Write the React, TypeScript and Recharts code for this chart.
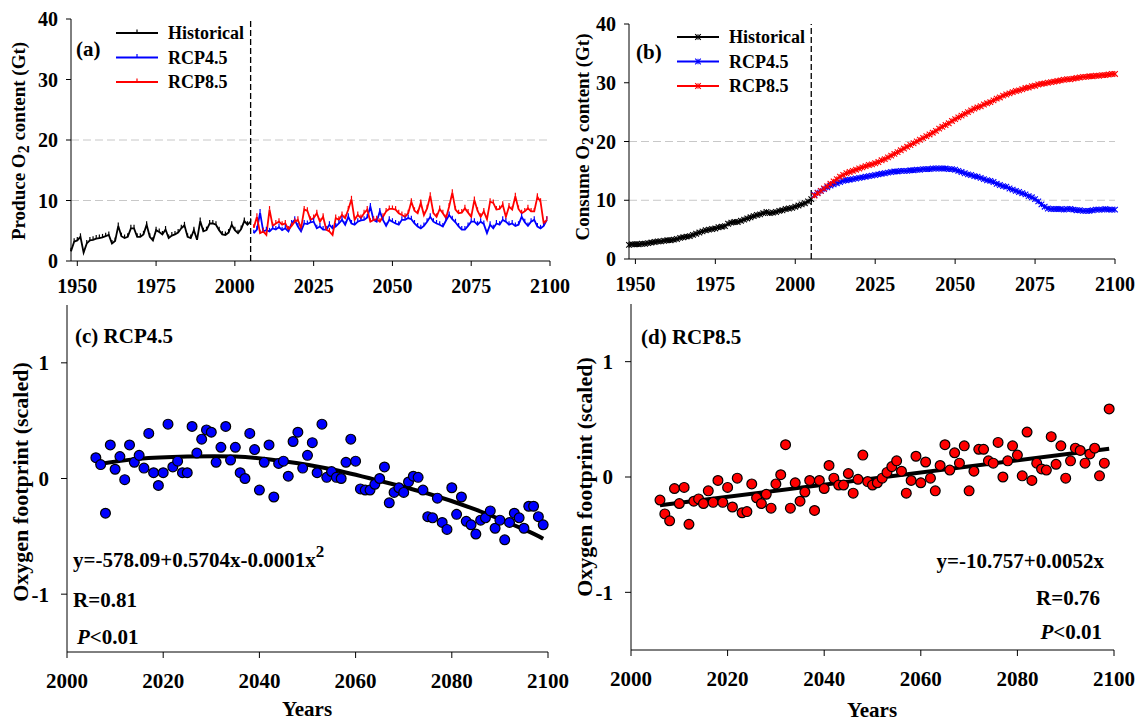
import React from 'react';
import {
  LineChart,
  Line,
  ComposedChart,
  Scatter,
  XAxis,
  YAxis,
  ReferenceLine,
  Legend,
} from 'recharts';

const SERIF = '"Liberation Serif", "Times New Roman", Times, serif';

const HIST_START = 1948;
const RCP_START = 2006;
const SPLIT_YEAR = 2005;

// (a) produced O2 (Gt)
const PRODUCE_HIST = [
  1.6, 3.2, 3.4, 4.0, 1.4, 2.9, 3.4, 3.5, 3.7, 3.8,
  3.9, 4.1, 4.3, 2.9, 3.3, 5.8, 4.1, 3.8, 4.0, 5.4,
  5.4, 4.0, 4.0, 4.4, 6.0, 4.0, 3.4, 5.1, 4.8, 4.4,
  5.2, 3.8, 4.2, 4.4, 4.7, 5.4, 5.9, 4.0, 3.8, 5.1,
  3.5, 6.6, 4.9, 5.1, 6.2, 6.2, 6.0, 5.1, 4.4, 4.3,
  4.7, 6.0, 5.1, 4.6, 5.3, 6.6, 6.0, 6.5,
];
const PRODUCE_RCP45 = [
  4.6, 5.2, 8.0, 4.9, 5.1, 4.9, 5.4, 5.2, 5.6, 5.1,
  5.4, 4.9, 6.2, 6.8, 5.7, 4.9, 6.2, 6.1, 6.4, 6.5,
  5.4, 5.7, 5.2, 5.2, 6.0, 5.4, 5.7, 6.2, 6.8, 6.0,
  7.3, 6.2, 6.0, 6.5, 6.7, 6.8, 7.2, 9.0, 6.8, 6.5,
  8.2, 6.8, 5.8, 6.8, 6.5, 6.2, 6.0, 6.8, 6.8, 7.1,
  6.9, 6.2, 5.7, 5.4, 5.8, 6.5, 7.3, 6.5, 6.2, 6.0,
  5.7, 6.7, 7.6, 6.9, 6.4, 5.7, 5.2, 5.2, 5.8, 6.5,
  6.5, 6.0, 6.5, 6.1, 4.6, 6.0, 5.4, 6.2, 6.0, 6.8,
  6.5, 6.0, 6.2, 5.8, 6.0, 7.3, 6.4, 5.8, 6.5, 6.8,
  5.7, 5.4, 5.8, 6.8,
];
const PRODUCE_RCP85 = [
  5.5, 7.3, 4.6, 4.9, 4.3, 8.5, 5.8, 6.2, 6.5, 6.0,
  6.2, 5.2, 5.8, 6.5, 6.8, 5.4, 8.5, 8.3, 6.8, 7.1,
  7.9, 6.5, 7.3, 5.2, 4.9, 4.3, 7.1, 6.8, 7.6, 7.1,
  8.5, 10.2, 6.8, 7.6, 7.1, 7.9, 8.5, 6.5, 6.8, 6.9,
  6.5, 7.3, 8.2, 8.6, 8.6, 8.5, 7.9, 7.6, 7.3, 7.9,
  9.8, 8.3, 7.9, 9.6, 7.6, 8.7, 10.8, 7.9, 7.3, 8.6,
  7.9, 7.1, 9.0, 11.3, 8.5, 7.9, 8.0, 8.7, 8.0, 7.3,
  10.1, 8.3, 7.3, 8.2, 6.9, 9.8, 9.6, 8.5, 8.6, 9.3,
  7.3, 9.0, 8.5, 10.7, 8.6, 7.9, 8.2, 8.7, 8.2, 8.2,
  10.6, 9.8, 6.2, 6.8,
];

// (b) consumed O2 (Gt)
const CONSUME_HIST = [
  2.4, 2.5, 2.5, 2.5, 2.6, 2.6, 2.7, 2.8, 2.9, 3.0,
  3.0, 3.1, 3.2, 3.2, 3.3, 3.4, 3.6, 3.7, 3.8, 3.9,
  4.1, 4.3, 4.5, 4.7, 4.9, 5.0, 5.1, 5.2, 5.4, 5.5,
  5.6, 6.0, 6.2, 6.3, 6.3, 6.5, 6.7, 6.9, 7.1, 7.3,
  7.5, 7.6, 7.8, 8.0, 7.8, 7.9, 8.0, 8.2, 8.3, 8.5,
  8.6, 8.7, 8.9, 9.1, 9.3, 9.5, 9.8, 10.2,
];
const CONSUME_RCP45 = [
  10.9, 11.3, 11.6, 11.9, 12.2, 12.5, 12.7, 12.9, 13.1, 13.3,
  13.4, 13.5, 13.6, 13.7, 13.8, 13.9, 14.0, 14.1, 14.2, 14.3,
  14.4, 14.5, 14.6, 14.7, 14.8, 14.9, 14.9, 15.0, 15.0, 15.0,
  15.1, 15.1, 15.2, 15.2, 15.3, 15.3, 15.3, 15.4, 15.4, 15.4,
  15.4, 15.4, 15.3, 15.3, 15.2, 15.0, 14.8, 14.6, 14.4, 14.3,
  14.1, 14.0, 13.8, 13.6, 13.4, 13.3, 13.1, 12.8, 12.6, 12.4,
  12.3, 12.0, 11.8, 11.6, 11.4, 11.2, 11.0, 10.7, 10.5, 10.2,
  9.8, 9.3, 8.9, 8.6, 8.5, 8.5, 8.5, 8.5, 8.4, 8.5,
  8.5, 8.4, 8.3, 8.3, 8.2, 8.2, 8.2, 8.3, 8.4, 8.4,
  8.4, 8.5, 8.4, 8.4, 8.4,
];
const CONSUME_RCP85 = [
  10.8, 11.2, 11.6, 12.0, 12.4, 12.8, 13.2, 13.6, 14.0, 14.3,
  14.6, 14.8, 15.0, 15.2, 15.4, 15.6, 15.8, 16.0, 16.1, 16.3,
  16.5, 16.8, 17.0, 17.3, 17.6, 17.9, 18.2, 18.5, 18.8, 19.1,
  19.4, 19.7, 20.0, 20.3, 20.6, 20.9, 21.2, 21.5, 21.8, 22.2,
  22.5, 22.8, 23.1, 23.5, 23.8, 24.1, 24.4, 24.7, 25.0, 25.3,
  25.6, 25.8, 26.0, 26.3, 26.5, 26.7, 27.0, 27.3, 27.5, 27.8,
  28.0, 28.2, 28.4, 28.6, 28.7, 28.9, 29.1, 29.2, 29.4, 29.5,
  29.7, 29.8, 29.9, 30.0, 30.1, 30.2, 30.3, 30.4, 30.5, 30.6,
  30.6, 30.7, 30.8, 30.9, 31.0, 31.0, 31.1, 31.1, 31.2, 31.2,
  31.3, 31.3, 31.4, 31.5, 31.5,
];

// (c)/(d) oxygen footprint, scaled, 2006-2099
const FOOT_RCP45 = [
  0.18, 0.12, -0.3, 0.29, 0.08, 0.19, -0.01, 0.29, 0.14, 0.2,
  0.09, 0.39, 0.05, -0.06, 0.05, 0.47, 0.1, 0.15, 0.05, 0.05,
  0.45, 0.22, 0.34, 0.42, 0.4, 0.14, 0.27, 0.45, 0.16, 0.27,
  0.05, 0.0, 0.39, 0.25, -0.1, 0.14, 0.29, -0.16, 0.13, 0.15,
  0.02, 0.32, 0.4, 0.09, 0.2, 0.31, 0.05, 0.47, 0.01, 0.06,
  0.01, 0.0, 0.14, 0.34, 0.15, -0.09, -0.1, -0.1, -0.05, 0.0,
  0.1, -0.21, -0.12, -0.08, -0.12, -0.03, 0.02, 0.01, -0.1, -0.33,
  -0.34, -0.17, -0.38, -0.44, -0.08, -0.31, -0.16, -0.37, -0.4, -0.48,
  -0.36, -0.34, -0.28, -0.43, -0.36, -0.53, -0.38, -0.3, -0.34, -0.43,
  -0.24, -0.24, -0.33, -0.4,
];
const FOOT_RCP85 = [
  -0.2, -0.32, -0.38, -0.1, -0.23, -0.09, -0.41, -0.21, -0.19, -0.23,
  -0.12, -0.22, -0.03, -0.22, -0.09, -0.26, -0.01, -0.31, -0.3, -0.06,
  -0.18, -0.23, -0.15, -0.27, -0.06, 0.02, 0.28, -0.27, -0.05, -0.21,
  -0.13, -0.03, -0.29, -0.03, -0.1, 0.1, -0.01, -0.07, -0.07, 0.03,
  -0.14, -0.02, 0.19, -0.04, -0.07, -0.05, -0.01, 0.04, 0.09, 0.14,
  0.05, -0.14, -0.03, 0.18, -0.05, 0.13, -0.01, -0.12, 0.1, 0.28,
  0.06, 0.21, 0.12, 0.27, -0.12, 0.05, 0.24, 0.24, 0.14, 0.12,
  0.3, 0.0, 0.14, 0.27, 0.19, 0.01, 0.39, -0.03, 0.12, 0.07,
  0.06, 0.35, 0.11, 0.27, -0.01, 0.14, 0.25, 0.23, 0.12, 0.2,
  0.25, 0.01, 0.12, 0.59,
];

// fitted curves
const FIT45_YEARS = [2006, 2015, 2025, 2035, 2045, 2055, 2065, 2075, 2085, 2095, 2099];
const FIT45 = [0.12, 0.17, 0.19, 0.19, 0.15, 0.08, -0.02, -0.13, -0.27, -0.44, -0.52];
const FIT85_YEARS = [2006, 2099];
const FIT85 = [-0.245, 0.245];

const O2_YEAR_TICKS = [1950, 1975, 2000, 2025, 2050, 2075, 2100];
const O2_TICKS = [0, 10, 20, 30, 40];
const O2_GRID = [10, 20];
const FOOT_YEAR_TICKS = [2000, 2020, 2040, 2060, 2080, 2100];
const FOOT_TICKS = [-1, 0, 1];

function buildO2Rows(hist: number[], rcp45: number[], rcp85: number[]) {
  const end = RCP_START + Math.max(rcp45.length, rcp85.length) - 1;
  const rows = [];
  for (let year = HIST_START; year <= end; year++) {
    const j = year - RCP_START;
    rows.push({
      year,
      hist: hist[year - HIST_START],
      rcp45: j >= 0 ? rcp45[j] : undefined,
      rcp85: j >= 0 ? rcp85[j] : undefined,
    });
  }
  return rows;
}

function buildFootRows(scores: number[], fitYears: number[], fit: number[]) {
  return scores.map((score, i) => {
    const year = RCP_START + i;
    const k = fitYears.indexOf(year);
    return { year, score, fit: k >= 0 ? fit[k] : undefined };
  });
}

const produceRows = buildO2Rows(PRODUCE_HIST, PRODUCE_RCP45, PRODUCE_RCP85);
const consumeRows = buildO2Rows(CONSUME_HIST, CONSUME_RCP45, CONSUME_RCP85);
const foot45Rows = buildFootRows(FOOT_RCP45, FIT45_YEARS, FIT45);
const foot85Rows = buildFootRows(FOOT_RCP85, FIT85_YEARS, FIT85);

const AXIS = { stroke: '#000', strokeWidth: 1 };

// tick text drawn here so it gets the serif face
const xTick = (size: number) => (p: any) => (
  <text
    x={p.x}
    y={p.y}
    dy="0.71em"
    textAnchor="middle"
    fontFamily={SERIF}
    fontWeight="bold"
    fontSize={size}
    fill="#000"
  >
    {p.payload.value}
  </text>
);
const yTick = (size: number) => (p: any) => (
  <text
    x={p.x}
    y={p.y}
    dy="0.35em"
    textAnchor="end"
    fontFamily={SERIF}
    fontWeight="bold"
    fontSize={size}
    fill="#000"
  >
    {p.payload.value}
  </text>
);

const valid = (p: any) => p && typeof p.cy === 'number' && !Number.isNaN(p.cy);

const tickMark = (x: number, y: number, color: string) => (
  <line x1={x} x2={x} y1={y - 3.5} y2={y} stroke={color} strokeWidth={1.2} />
);

const starMark = (x: number, y: number, color: string) => {
  const s = 2.8;
  return (
    <g stroke={color} strokeWidth={1.1}>
      <line x1={x - s} y1={y - s} x2={x + s} y2={y + s} />
      <line x1={x - s} y1={y + s} x2={x + s} y2={y - s} />
      <line x1={x} y1={y - s} x2={x} y2={y + s} />
    </g>
  );
};

const makeDot = (mark: typeof tickMark) => (p: any) =>
  valid(p) ? <g key={`d${p.index}`}>{mark(p.cx, p.cy, p.stroke)}</g> : <g key={`d${p.index}`} />;

function SeriesLegend({ payload, mark }: { payload?: any[]; mark: typeof tickMark }) {
  return (
    <svg width={150} height={76} style={{ overflow: 'visible' }}>
      {(payload || []).map((item, i) => {
        const y = 12 + i * 24.5;
        return (
          <g key={item.value}>
            <line x1={0} x2={42} y1={y} y2={y} stroke={item.color} strokeWidth={2.2} />
            {mark(21, y, item.color)}
            <text
              x={52}
              y={y}
              dy="0.35em"
              fontFamily={SERIF}
              fontWeight="bold"
              fontSize={18}
              fill="#000"
            >
              {item.value}
            </text>
          </g>
        );
      })}
    </svg>
  );
}

function O2Panel({
  rows,
  mark,
  lineWidth,
  margin,
  legendPos,
}: {
  rows: any[];
  mark: typeof tickMark;
  lineWidth: number;
  margin: { top: number; right: number; bottom: number; left: number };
  legendPos: { left: number; top: number };
}) {
  const dot = makeDot(mark);
  return (
    <LineChart width={600} height={300} data={rows} margin={margin}>
      <XAxis
        dataKey="year"
        type="number"
        domain={[1948, 2100]}
        ticks={O2_YEAR_TICKS}
        interval={0}
        height={30}
        tickSize={5}
        tickMargin={13}
        tick={xTick(20)}
        axisLine={AXIS}
        tickLine={AXIS}
      />
      <XAxis
        xAxisId="top"
        orientation="top"
        dataKey="year"
        type="number"
        domain={[1948, 2100]}
        height={0}
        tick={false}
        tickLine={false}
        axisLine={AXIS}
      />
      <YAxis
        type="number"
        domain={[0, 40]}
        ticks={O2_TICKS}
        interval={0}
        width={40}
        tickSize={5}
        tickMargin={8}
        tick={yTick(20)}
        axisLine={AXIS}
        tickLine={AXIS}
      />
      <YAxis
        yAxisId="right"
        orientation="right"
        type="number"
        domain={[0, 40]}
        width={0}
        tick={false}
        tickLine={false}
        axisLine={AXIS}
      />
      {O2_GRID.map((v) => (
        <ReferenceLine key={v} y={v} stroke="#c8c8c8" strokeDasharray="8 4" />
      ))}
      <ReferenceLine x={SPLIT_YEAR} stroke="#000" strokeWidth={1.3} strokeDasharray="6 3" />
      <Line
        dataKey="hist"
        name="Historical"
        stroke="#000"
        strokeWidth={lineWidth}
        dot={dot}
        activeDot={false}
        isAnimationActive={false}
      />
      <Line
        dataKey="rcp45"
        name="RCP4.5"
        stroke="#0000ff"
        strokeWidth={lineWidth}
        dot={dot}
        activeDot={false}
        isAnimationActive={false}
      />
      <Line
        dataKey="rcp85"
        name="RCP8.5"
        stroke="#ff0000"
        strokeWidth={lineWidth}
        dot={dot}
        activeDot={false}
        isAnimationActive={false}
      />
      <Legend
        layout="vertical"
        align="center"
        verticalAlign="middle"
        wrapperStyle={{ left: legendPos.left, top: legendPos.top, width: 150, height: 76 }}
        content={(props: any) => <SeriesLegend payload={props.payload} mark={mark} />}
      />
    </LineChart>
  );
}

function FootPanel({
  rows,
  fill,
  fitType,
  margin,
}: {
  rows: any[];
  fill: string;
  fitType: 'natural' | 'linear';
  margin: { top: number; right: number; bottom: number; left: number };
}) {
  return (
    <ComposedChart width={600} height={433} data={rows} margin={margin}>
      <XAxis
        dataKey="year"
        type="number"
        domain={[2000, 2100]}
        ticks={FOOT_YEAR_TICKS}
        interval={0}
        height={40}
        tickSize={6}
        tickMargin={15}
        tick={xTick(21)}
        axisLine={AXIS}
        tickLine={AXIS}
      />
      <XAxis
        xAxisId="top"
        orientation="top"
        dataKey="year"
        type="number"
        domain={[2000, 2100]}
        height={0}
        tick={false}
        tickLine={false}
        axisLine={AXIS}
      />
      <YAxis
        type="number"
        domain={[-1.5, 1.5]}
        ticks={FOOT_TICKS}
        interval={0}
        width={40}
        tickSize={6}
        tickMargin={12}
        tick={yTick(21)}
        axisLine={AXIS}
        tickLine={AXIS}
      />
      <YAxis
        yAxisId="right"
        orientation="right"
        type="number"
        domain={[-1.5, 1.5]}
        width={0}
        tick={false}
        tickLine={false}
        axisLine={AXIS}
      />
      <Scatter
        dataKey="score"
        isAnimationActive={false}
        shape={(p: any) => (
          <circle cx={p.cx} cy={p.cy} r={4.9} fill={fill} stroke="#000" strokeWidth={1.2} />
        )}
      />
      <Line
        dataKey="fit"
        type={fitType}
        connectNulls
        stroke="#000"
        strokeWidth={4}
        dot={false}
        activeDot={false}
        isAnimationActive={false}
      />
    </ComposedChart>
  );
}

const T = { fontFamily: SERIF, fontWeight: 'bold' as const, fill: '#000' };

function Labels() {
  return (
    <svg
      width={1138}
      height={723}
      style={{ position: 'absolute', left: 0, top: 0, pointerEvents: 'none' }}
    >
      {/* y-axis titles */}
      <text {...T} fontSize={19} textAnchor="middle" transform="translate(25,141) rotate(-90)">
        <tspan>Produce O</tspan>
        <tspan fontSize={16} dy={4}>2</tspan>
        <tspan dy={-4}> content (Gt)</tspan>
      </text>
      <text {...T} fontSize={19} textAnchor="middle" transform="translate(589,137) rotate(-90)">
        <tspan>Consume O</tspan>
        <tspan fontSize={16} dy={4}>2</tspan>
        <tspan dy={-4}> content (Gt)</tspan>
      </text>
      <text {...T} fontSize={22} textAnchor="middle" transform="translate(28,482) rotate(-90)">
        Oxygen footprint (scaled)
      </text>
      <text {...T} fontSize={22} textAnchor="middle" transform="translate(592,477) rotate(-90)">
        Oxygen footprint (scaled)
      </text>

      {/* panel tags */}
      <text {...T} fontSize={21} x={76} y={56}>(a)</text>
      <text {...T} fontSize={21} x={636} y={59}>(b)</text>
      <text {...T} fontSize={21} x={75} y={343}>(c) RCP4.5</text>
      <text {...T} fontSize={21} x={641} y={344}>(d) RCP8.5</text>

      {/* x-axis titles */}
      <text {...T} fontSize={21} x={307} y={716} textAnchor="middle">Years</text>
      <text {...T} fontSize={21} x={872} y={717} textAnchor="middle">Years</text>

      {/* fit statistics */}
      <text {...T} fontSize={21} x={73} y={567}>
        y=-578.09+0.5704x-0.0001x
        <tspan fontSize={17} dy={-10}>2</tspan>
      </text>
      <text {...T} fontSize={21} x={73} y={607}>R=0.81</text>
      <text {...T} fontSize={21} x={77} y={644}>
        <tspan fontStyle="italic">P</tspan>&lt;0.01
      </text>
      <text {...T} fontSize={21} x={1104} y={568} textAnchor="end">y=-10.757+0.0052x</text>
      <text {...T} fontSize={21} x={1100} y={605} textAnchor="end">R=0.76</text>
      <text {...T} fontSize={21} x={1102} y={639} textAnchor="end">
        <tspan fontStyle="italic">P</tspan>&lt;0.01
      </text>
    </svg>
  );
}

export default function App() {
  return (
    <div
      style={{
        position: 'absolute',
        left: 0,
        top: 0,
        width: 1138,
        height: 723,
        overflow: 'hidden',
        background: '#fff',
        fontFamily: SERIF,
      }}
    >
      <div style={{ position: 'absolute', left: 0, top: 0 }}>
        <O2Panel
          rows={produceRows}
          mark={tickMark}
          lineWidth={1.8}
          margin={{ top: 19, right: 50, bottom: 9, left: 31 }}
          legendPos={{ left: 116, top: 21 }}
        />
      </div>
      <div style={{ position: 'absolute', left: 570, top: 0 }}>
        <O2Panel
          rows={consumeRows}
          mark={starMark}
          lineWidth={2.4}
          margin={{ top: 24, right: 55, bottom: 11, left: 19 }}
          legendPos={{ left: 107, top: 25 }}
        />
      </div>
      <div style={{ position: 'absolute', left: 0, top: 290 }}>
        <FootPanel
          rows={foot45Rows}
          fill="#0000ff"
          fitType="natural"
          margin={{ top: 15, right: 52, bottom: 31, left: 27 }}
        />
      </div>
      <div style={{ position: 'absolute', left: 570, top: 290 }}>
        <FootPanel
          rows={foot85Rows}
          fill="#ff0000"
          fitType="linear"
          margin={{ top: 14, right: 56, bottom: 33, left: 21 }}
        />
      </div>
      <Labels />
    </div>
  );
}
